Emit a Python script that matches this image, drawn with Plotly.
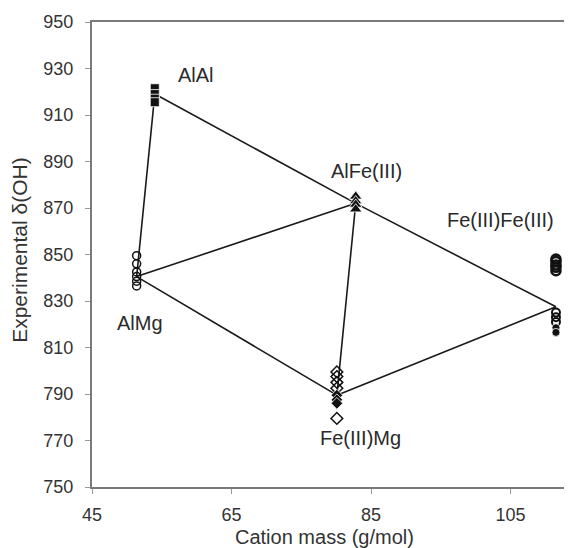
import plotly.graph_objects as go

# ---- data ----
vertex_names = ["AlMg", "AlAl", "AlFe(III)", "Fe(III)Mg", "Fe(III)Fe(III)"]
vertex_x = [51.4, 54.0, 82.8, 80.1, 111.5]
vertex_y = [840.5, 919.0, 872.0, 789.5, 827.5]

# AlMg: open circles
almg_x = [51.4, 51.4, 51.4, 51.4, 51.4, 51.4]
almg_y = [849.5, 846.0, 842.5, 840.5, 838.5, 836.5]

# AlAl: filled squares
alal_x = [54.0, 54.0, 54.0, 54.0]
alal_y = [921.5, 919.0, 917.0, 915.5]

# AlFe(III): filled triangles
alfe_x = [82.8, 82.8, 82.8, 82.8]
alfe_y = [875.0, 873.0, 871.5, 869.5]

# Fe(III)Mg: open diamonds, filled diamonds
femg_open_x = [80.1, 80.1, 80.1, 80.1, 80.1]
femg_open_y = [799.5, 797.5, 795.0, 792.5, 779.5]
femg_fill_x = [80.1, 80.1, 80.1]
femg_fill_y = [789.5, 787.5, 786.0]

# Fe(III)Fe(III): upper circles (dense), lower open circles, filled circles
fefe_up_x = [111.5, 111.5, 111.5, 111.5, 111.5]
fefe_up_y = [848.0, 847.0, 845.5, 844.5, 843.0]
fefe_open_x = [111.5, 111.5, 111.5]
fefe_open_y = [825.0, 823.0, 821.0]
fefe_fill_x = [111.5, 111.5]
fefe_fill_y = [818.5, 816.5]

# connecting lines (index pairs into vertex lists)
segments = [(0, 1), (1, 2), (2, 4), (0, 2), (2, 3), (0, 3), (3, 4)]

x_ticks = [45, 65, 85, 105]
y_ticks = [750, 770, 790, 810, 830, 850, 870, 890, 910, 930, 950]

label_text = ["AlAl", "AlMg", "AlFe(III)", "Fe(III)Mg", "Fe(III)Fe(III)"]
label_x = [59.9, 51.9, 84.3, 83.5, 103.5]
label_y = [927.2, 820.5, 885.9, 771.0, 864.8]

FONT = "Liberation Sans, Arial, sans-serif"

# ---- figure ----
fig = go.Figure()

for a, b in segments:
    fig.add_trace(go.Scatter(
        x=[vertex_x[a], vertex_x[b]], y=[vertex_y[a], vertex_y[b]],
        mode="lines", line=dict(color="#1a1a1a", width=1.6),
        hoverinfo="skip", showlegend=False))

def markers(x, y, symbol, size, fill, lw, lc="#111111"):
    fig.add_trace(go.Scatter(
        x=x, y=y, mode="markers", showlegend=False,
        marker=dict(symbol=symbol, size=size, color=fill,
                    line=dict(color=lc, width=lw))))

markers(almg_x, almg_y, "circle-open", 8, "#111111", 1.5)
markers(alal_x, alal_y, "square", 9, "#111111", 0.8, "#ffffff")
markers(alfe_x, alfe_y, "triangle-up", 11, "#111111", 0.8, "#ffffff")
markers(femg_open_x, femg_open_y, "diamond-open", 9, "#111111", 1.5)
markers(femg_fill_x, femg_fill_y, "diamond", 9, "#111111", 0.8, "#ffffff")
markers(fefe_up_x, fefe_up_y, "circle-open", 9, "#111111", 2.6)
markers(fefe_open_x, fefe_open_y, "circle-open", 8, "#111111", 2)
markers(fefe_fill_x, fefe_fill_y, "circle", 8, "#111111", 0.8, "#ffffff")

for t, x, y in zip(label_text, label_x, label_y):
    fig.add_annotation(x=x, y=y, text=t, showarrow=False,
                       font=dict(family=FONT, size=20, color="#2a2a2a"))

# axis titles as paper-positioned annotations
fig.add_annotation(xref="paper", yref="paper", x=0.485, y=-0.107,
                   text="Cation mass (g/mol)", showarrow=False,
                   xanchor="center", yanchor="middle",
                   font=dict(family=FONT, size=20, color="#333333"))
fig.add_annotation(xref="paper", yref="paper", x=-0.15, y=0.51,
                   text="Experimental δ(OH)", showarrow=False, textangle=-90,
                   xanchor="center", yanchor="middle",
                   font=dict(family=FONT, size=21, color="#333333"))

axis_font = dict(family=FONT, size=18, color="#333333")
fig.update_xaxes(range=[45, 113.8], tickvals=x_ticks, ticks="outside", ticklen=5,
                 tickcolor="#999999", tickwidth=1, showgrid=False, zeroline=False,
                 showline=True, linecolor="#7a7a7a", linewidth=2, mirror=True,
                 tickfont=axis_font, ticklabelstandoff=5, automargin=False)
fig.update_yaxes(range=[750, 950], tickvals=y_ticks, ticks="outside", ticklen=5,
                 tickcolor="#999999", tickwidth=1, showgrid=False, zeroline=False,
                 showline=True, linecolor="#7a7a7a", linewidth=2,
                 tickfont=axis_font, ticklabelstandoff=8, automargin=False)

# page body adds an 8px offset, so margins are reduced by 8px
fig.update_layout(width=572, height=548, margin=dict(l=84, r=8, t=14, b=69),
                  paper_bgcolor="white", plot_bgcolor="white", showlegend=False)

fig.write_html("out.html")
